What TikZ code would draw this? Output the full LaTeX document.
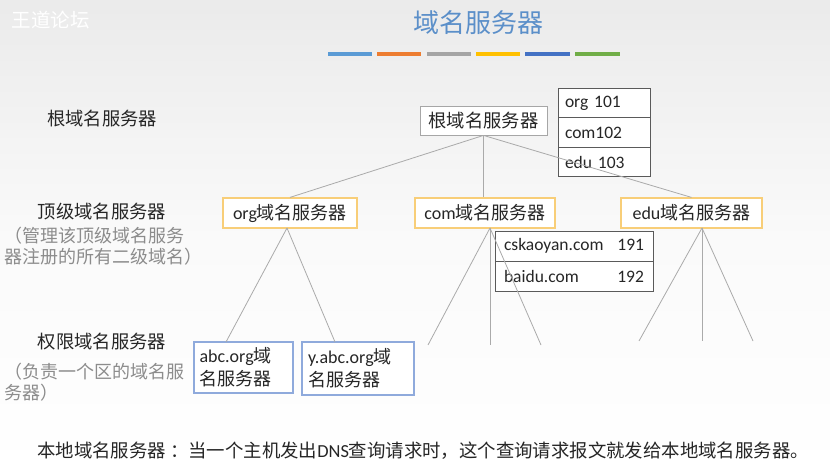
\documentclass[tikz,border=0pt]{standalone}
\usepackage{fontspec}
\setmainfont{Carlito}
\newfontfamily\cjk{Noto Sans CJK SC}
\definecolor{titleblue}{RGB}{91,143,201}
\definecolor{bA}{RGB}{91,155,213}
\definecolor{bB}{RGB}{237,125,49}
\definecolor{bC}{RGB}{165,165,165}
\definecolor{bD}{RGB}{255,192,0}
\definecolor{bE}{RGB}{68,114,196}
\definecolor{bF}{RGB}{112,173,71}
\definecolor{linegray}{RGB}{170,170,170}
\definecolor{boxgray}{RGB}{166,166,166}
\definecolor{boxyellow}{RGB}{248,206,120}
\definecolor{boxblue}{RGB}{143,170,220}
\definecolor{tabgray}{RGB}{90,90,90}
\definecolor{txt}{RGB}{38,38,38}
\definecolor{subtxt}{RGB}{140,140,140}
\tikzset{
  fs/.style={font=\fontsize{18}{22}\selectfont},
  rootbox/.style={draw=boxgray, fill=white, line width=0.8pt, inner sep=0pt, minimum height=29pt, fs, text=txt},
  tldbox/.style={draw=boxyellow, fill=white, line width=1.2pt, inner sep=0pt, minimum height=30pt, fs, text=txt},
  authbox/.style={draw=boxblue, fill=white, line width=1.2pt, inner sep=0pt, font=\fontsize{18}{23}\selectfont, text=txt, align=left},
  tabcell/.style={draw=tabgray, fill=white, line width=0.8pt, inner sep=0pt, font=\fontsize{17.5}{20}\selectfont, text=txt},
  conn/.style={draw=linegray, line width=0.8pt},
  lbl/.style={font=\cjk\fontsize{18.3}{21}\selectfont, text=txt},
  sublbl/.style={font=\cjk\fontsize{18}{21}\selectfont, text=subtxt, align=left, inner sep=0pt},
  bar/.style={line width=4pt}
}
\begin{document}
\begin{tikzpicture}[x=1pt,y=-1pt]
\useasboundingbox (0,0) rectangle (830,473);
\shade[top color=black!8, bottom color=white, middle color=black!2] (0,0) rectangle (830,473);
% watermark and title
\node[font=\cjk\fontsize{19.5}{22}\selectfont, text=white] (wm) at (51,20) {王道论坛};
\node[font=\cjk\fontsize{26}{30}\selectfont, text=titleblue] (title) at (478,23) {域名服务器};
\draw[bar, bA] (328,54) -- (372,54);
\draw[bar, bB] (377,54) -- (421,54);
\draw[bar, bC] (427,54) -- (471,54);
\draw[bar, bD] (476,54) -- (520,54);
\draw[bar, bE] (525,54) -- (570,54);
\draw[bar, bF] (575,54) -- (620,54);
% left labels
\node[lbl] (l1) at (102,119) {根域名服务器};
\node[lbl] (l2) at (102,212) {顶级域名服务器};
\node[sublbl, anchor=west] (l2s) at (4,246) {（管理该顶级域名服务\\器注册的所有二级域名）};
\node[lbl] (l3) at (102,342) {权限域名服务器};
\node[sublbl, anchor=west] (l3s) at (4,382) {（负责一个区的域名服\\务器）};
% root
\node[rootbox, minimum width=127pt, font=\cjk\fontsize{18.3}{21}\selectfont] (root) at (483.5,120.5) {根域名服务器};
\node[tabcell, minimum width=92pt, minimum height=29.7pt, text width=78pt] (t1) at (604,103) {org 101};
\node[tabcell, minimum width=92pt, minimum height=29.7pt, text width=78pt] (t2) at (604,132.5) {com102};
\node[tabcell, minimum width=92pt, minimum height=29.7pt, text width=78pt] (t3) at (604,162) {edu 103};
% TLD
\node[tldbox, minimum width=134pt] (org) at (290,213) {org{\cjk 域名服务器}};
\node[tldbox, minimum width=140pt] (com) at (485,213) {com{\cjk 域名服务器}};
\node[tldbox, minimum width=141pt] (edu) at (691.5,213) {edu{\cjk 域名服务器}};
% com table
\node[tabcell, minimum width=158pt, minimum height=30pt, text width=140pt] (c1) at (574,246) {cskaoyan.com\hfill 191};
\node[tabcell, minimum width=158pt, minimum height=30pt, text width=140pt] (c2) at (574,276) {baidu.com\hfill 192};
% authority
\node[authbox, minimum width=99pt, minimum height=51pt, text width=88pt] (abc) at (243.5,367.5) {abc.org{\cjk 域}\\{\cjk 名服务器}};
\node[authbox, minimum width=112pt, minimum height=53pt, text width=100pt] (yabc) at (358,368.5) {y.abc.org{\cjk 域}\\{\cjk 名服务器}};
% leaf coordinates
\coordinate (cl1) at (428,345);
\coordinate (cl2) at (490,345);
\coordinate (cl3) at (541,345);
\coordinate (el1) at (639,341);
\coordinate (el2) at (702,341);
\coordinate (el3) at (753,341);
\coordinate (comb) at (490,228);
\coordinate (edub) at (702,228);
\coordinate (orgb) at (287,228);
\coordinate (abct) at (226,342);
\coordinate (yabct) at (335,342);
% connectors
\draw[conn] (root.south) -- (org.north);
\draw[conn] (root.south) -- (com.north -| root.south);
\draw[conn] (root.south) -- (edu.north);
\draw[conn] (comb) -- (cl1);
\draw[conn] (comb) -- (cl2);
\draw[conn] (comb) -- (cl3);
\draw[conn] (edub) -- (el1);
\draw[conn] (edub) -- (el2);
\draw[conn] (edub) -- (el3);
\draw[conn] (orgb) -- (abct);
\draw[conn] (orgb) -- (yabct);
% bottom text
\node[font=\fontsize{18.4}{21}\selectfont, text=txt, anchor=west, inner sep=0pt] (note) at (37,451) {{\cjk 本地域名服务器 ：当一个主机发出}DNS{\cjk 查询请求时，这个查询请求报文就发给本地域名服务器。}};
\end{tikzpicture}
\end{document}
